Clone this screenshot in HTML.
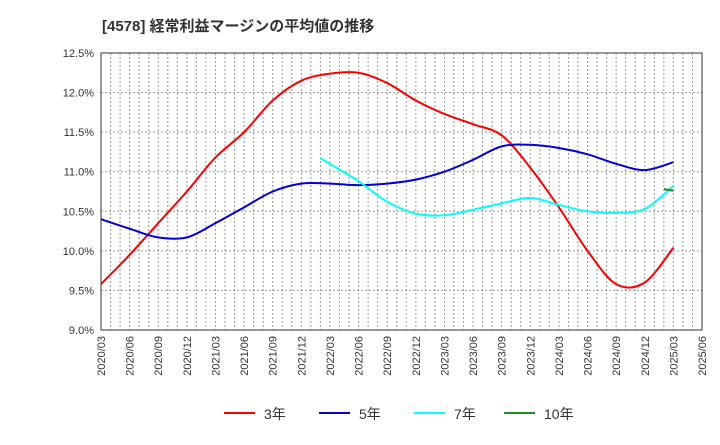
<!DOCTYPE html>
<html><head><meta charset="utf-8"><style>
body{margin:0;background:#fff;}
svg text{font-family:"Liberation Sans","Noto Sans CJK JP",sans-serif;}
</style></head><body>
<svg id="c" width="720" height="440" xmlns="http://www.w3.org/2000/svg">
<text x="102" y="31" font-size="15" font-weight="bold" fill="#333">[4578]  経常利益マージンの平均値の推移</text>
<g id="grid"></g><g id="axes"></g><g id="series"></g><g id="legend"></g>
</svg>
<script>
const xLabels=["2020/03","2020/06","2020/09","2020/12","2021/03","2021/06","2021/09","2021/12","2022/03","2022/06","2022/09","2022/12","2023/03","2023/06","2023/09","2023/12","2024/03","2024/06","2024/09","2024/12","2025/03","2025/06"];
const yTicks=[9.0,9.5,10.0,10.5,11.0,11.5,12.0,12.5];
const qDates=["2020/03","2020/06","2020/09","2020/12","2021/03","2021/06","2021/09","2021/12","2022/03","2022/06","2022/09","2022/12","2023/03","2023/06","2023/09","2023/12","2024/03","2024/06","2024/09","2024/12","2025/03"];
const s3=[9.58,9.95,10.35,10.75,11.18,11.5,11.9,12.15,12.24,12.25,12.12,11.9,11.73,11.6,11.46,11.05,10.55,10.0,9.58,9.6,10.04];
const s5=[10.4,10.28,10.17,10.17,10.35,10.55,10.75,10.85,10.85,10.83,10.85,10.9,11.0,11.15,11.32,11.34,11.3,11.22,11.1,11.02,11.12];
const d7=["2022/02","2022/03","2022/06","2022/09","2022/12","2023/03","2023/06","2023/09","2023/12","2024/03","2024/06","2024/09","2024/12","2025/03"];
const s7=[11.17,11.1,10.88,10.62,10.47,10.45,10.52,10.6,10.67,10.58,10.5,10.48,10.53,10.82];
const d10=["2025/02","2025/03"];
const s10=[10.78,10.76];
const L=101,R=702,T=53,B=330,ymin=9,ymax=12.5;
const mi=d=>{const[y,m]=d.split("/").map(Number);return (y-2020)*12+m-3;};
const X=d=>L+mi(d)*(R-L)/63;
const Y=v=>B-(v-ymin)/(ymax-ymin)*(B-T);
const NS="http://www.w3.org/2000/svg";
function mk(t,a,p){const e=document.createElementNS(NS,t);for(const k in a)e.setAttribute(k,a[k]);p.appendChild(e);return e;}
const g=document.getElementById("grid"),ax=document.getElementById("axes"),sr=document.getElementById("series"),lg=document.getElementById("legend");
for(let m=1;m<63;m++){const x=L+m*(R-L)/63;const l=mk("line",{x1:x,x2:x,y1:T,y2:B,stroke:"#999","stroke-dasharray":"2,2","stroke-width":1},g);

}
yTicks.forEach(v=>{const y=Y(v);const l=mk("line",{x1:L,x2:R,y1:y,y2:y,stroke:"#999","stroke-dasharray":"2,2","stroke-width":1},g);


const t=mk("text",{x:94,y:y+4,"font-size":11,"text-anchor":"end",fill:"#333"},ax);t.textContent=v.toFixed(1)+"%";

});
xLabels.forEach(d=>{const x=X(d);const t=mk("text",{transform:`translate(${x+4},${B+6}) rotate(-90)`,"font-size":11,"text-anchor":"end",fill:"#333"},ax);t.textContent=d;

});
const fr=mk("rect",{x:L,y:T,width:R-L,height:B-T,fill:"none",stroke:"#333","stroke-width":1},ax);


function smooth(P){if(P.length<3)return "M"+P.map(p=>p.join(",")).join(" L");let d="M"+P[0][0]+","+P[0][1];
for(let i=0;i<P.length-1;i++){const p0=P[Math.max(0,i-1)],p1=P[i],p2=P[i+1],p3=P[Math.min(P.length-1,i+2)];
const c1=[p1[0]+(p2[0]-p0[0])/6,p1[1]+(p2[1]-p0[1])/6],c2=[p2[0]-(p3[0]-p1[0])/6,p2[1]-(p3[1]-p1[1])/6];
d+=` C${c1[0]},${c1[1]} ${c2[0]},${c2[1]} ${p2[0]},${p2[1]}`;}return d;}
function line(ds,vs,c,n){const p=mk("path",{d:smooth(ds.map((d,i)=>[X(d),Y(vs[i])])),fill:"none",stroke:c,"stroke-width":2,"stroke-linejoin":"round"},sr);

}
line(qDates,s3,"#ff0000","line-3yr");
line(qDates,s5,"#0000dd","line-5yr");
line(d7,s7,"#00ffff","line-7yr");
line(d10,s10,"#228b22","line-10yr");
[["3年","#ff0000",224],["5年","#0000dd",319],["7年","#00ffff",414],["10年","#228b22",504]].forEach(([t,c,x])=>{
const l=mk("line",{x1:x,x2:x+31,y1:413,y2:413,stroke:c,"stroke-width":2},lg);


const tx=mk("text",{x:x+40,y:419,"font-size":14,fill:"#333"},lg);tx.textContent=t;

});
</script>
</body></html>
